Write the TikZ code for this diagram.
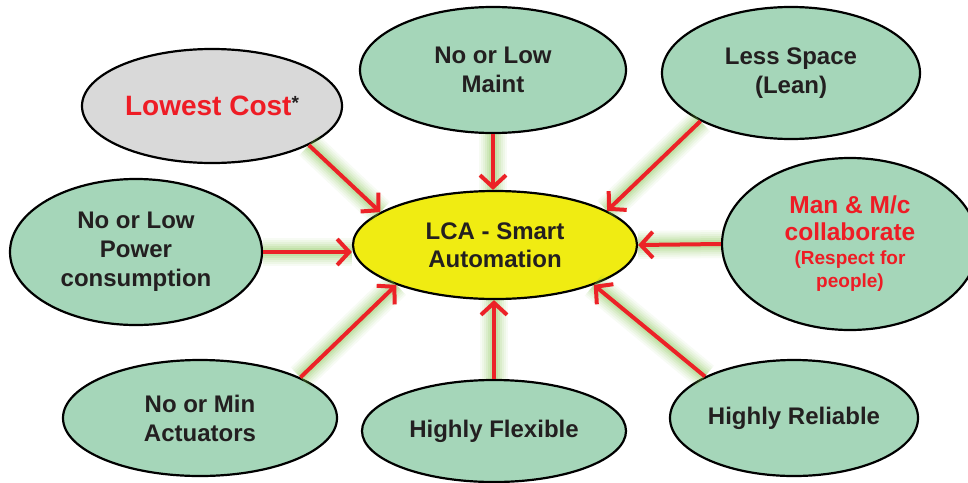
\documentclass[tikz,border=0pt]{standalone}
\usepackage{fontspec}
\setmainfont{Liberation Sans}
\usetikzlibrary{shapes.geometric,arrows.meta}
\definecolor{bubble}{HTML}{A5D6B9}
\definecolor{greybub}{HTML}{D9D9D9}
\definecolor{hub}{HTML}{F0EC12}
\definecolor{arrred}{HTML}{EC2227}
\definecolor{txtdark}{HTML}{231F20}
\definecolor{txtred}{HTML}{EE1C25}
\definecolor{glowc}{RGB}{125,195,70}
\newcommand\glowline[2]{%
  \foreach \w/\o in {28/0.06,24/0.07,20/0.08,16/0.10,12/0.12,8/0.14}{%
    \draw[glowc,line width=\w pt,opacity=\o] (#1) -- (#2);}}
\begin{document}
\begin{tikzpicture}[x=1pt,y=-1pt,
  bub/.style={ellipse,draw=black,line width=2.2pt,fill=bubble,inner sep=0pt,
    align=center,text=txtdark,font=\bfseries\fontsize{24}{29}\selectfont},
  arr/.style={draw=arrred,line width=4pt,-{Straight Barb[length=12pt,width=26pt]}}]
\useasboundingbox (0,0) rectangle (968,482);
\fill[white] (0,0) rectangle (968,482);

\node[bub,fill=hub,minimum width=284pt,minimum height=108pt,
  font=\bfseries\fontsize{24}{28}\selectfont] (c) at (495,245) {LCA - Smart\\Automation};
\node[bub,fill=greybub,minimum width=260pt,minimum height=114pt,text=txtred,
  font=\bfseries\fontsize{28}{30}\selectfont] (lc) at (212,106)
  {Lowest Cost\raisebox{6pt}{\color{txtdark}\fontsize{19}{19}\selectfont *}};
\node[bub,minimum width=266pt,minimum height=126pt] (m) at (493,70) {No or Low\\Maint};
\node[bub,minimum width=258pt,minimum height=132pt] (ls) at (791,73) {Less Space\\(Lean)};
\node[bub,minimum width=252pt,minimum height=146pt] (p) at (136,252) {No or Low\\Power\\consumption};
\node[bub,minimum width=256pt,minimum height=172pt,text=txtred,
  font=\bfseries\fontsize{24.5}{27}\selectfont] (mc) at (850,244)
  {Man \& M/c\\collaborate\\[-3pt]{\fontsize{19}{22}\selectfont (Respect for}\\[-4pt]{\fontsize{19}{22}\selectfont people)}};
\node[bub,minimum width=274pt,minimum height=116pt] (a) at (200,418) {No or Min\\Actuators};
\node[bub,minimum width=264pt,minimum height=102pt] (f) at (494,431) {Highly Flexible};
\node[bub,minimum width=248pt,minimum height=116pt] (r) at (794,418) {Highly Reliable};

\glowline{lc.-22}{c.164}
\glowline{m.south}{m.south |- c.north}
\glowline{ls.208}{c.17}
\glowline{p.east}{p.east -| c.west}
\glowline{mc.west}{c.east}
\glowline{a.22}{c.202}
\glowline{f.north}{f.north |- c.south}
\glowline{r.155}{c.-22}

\draw[arr] (lc.-22) -- (c.164);
\draw[arr] (m.south) -- (m.south |- c.north);
\draw[arr] (ls.208) -- (c.17);
\draw[arr] (p.east) -- (p.east -| c.west);
\draw[arr] (mc.west) -- (c.east);
\draw[arr] (a.22) -- (c.202);
\draw[arr] (f.north) -- (f.north |- c.south);
\draw[arr] (r.155) -- (c.-22);
\end{tikzpicture}
\end{document}
